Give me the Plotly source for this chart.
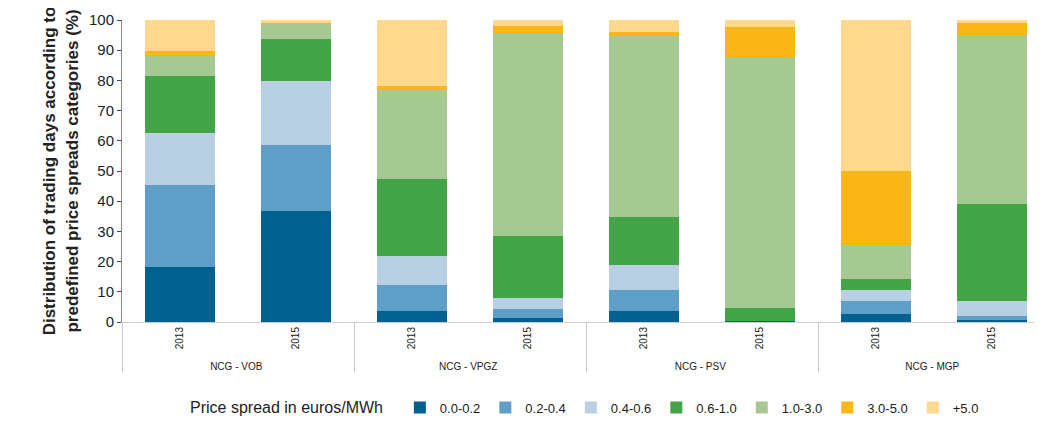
import plotly.graph_objects as go

groups = ["NCG - VOB","NCG - VOB","NCG - VPGZ","NCG - VPGZ","NCG - PSV","NCG - PSV","NCG - MGP","NCG - MGP"]
years = ["2013","2015"]*4
categories = ["0.0-0.2","0.2-0.4","0.4-0.6","0.6-1.0","1.0-3.0","3.0-5.0","+5.0"]
values = {
    "0.0-0.2": [18.2, 36.8, 3.6, 1.3, 3.6, 0.3, 2.6, 0.7],
    "0.2-0.4": [27.2, 21.8, 8.7, 3.0, 7.0, 0.0, 4.4, 1.3],
    "0.4-0.6": [17.2, 21.2, 9.6, 3.6, 8.3, 0.0, 3.6, 5.0],
    "0.6-1.0": [18.9, 13.9, 25.5, 20.6, 15.9, 4.3, 3.6, 32.1],
    "1.0-3.0": [6.9, 5.0, 29.4, 67.2, 59.9, 83.1, 11.3, 55.9],
    "3.0-5.0": [1.3, 0.3, 1.3, 2.3, 1.3, 10.0, 24.5, 4.0],
    "+5.0":    [10.3, 1.0, 21.9, 2.0, 4.0, 2.3, 50.0, 1.0],
}
colors = ["#00618f","#5f9ec7","#b8cfe4","#43a548","#a6c994","#fbb716","#fed98e"]

fig = go.Figure()
for c, col in zip(categories, colors):
    fig.add_trace(go.Bar(x=[groups, years], y=values[c], name=c, marker_color=col, marker_line_width=0))

fig.update_layout(
    barmode="stack", width=1042, height=421, bargap=0.4,
    margin=dict(l=114, r=0, t=12, b=107, autoexpand=False),
    plot_bgcolor="white", paper_bgcolor="white",
    font=dict(family="Liberation Sans, Arial", size=12, color="#222"),
    legend=dict(orientation="h", x=0.5, xanchor="center", y=-0.285, yanchor="middle",
                title=dict(text="Price spread in euros/MWh  ", side="left"),
                font=dict(size=13), traceorder="normal", itemwidth=30),
    yaxis=dict(range=[0,100], dtick=10, showgrid=False, ticks="outside", ticklen=4,
               showline=True, linecolor="#888", tickfont=dict(size=15), automargin=False,
               title=dict(text="<b>Distribution of trading days according to<br>predefined price spreads categories (%)</b>",
                          font=dict(size=17), standoff=6)),
    xaxis=dict(tickangle=-90, tickfont=dict(size=10), showdividers=True, dividercolor="#ccc",
               showline=True, linecolor="#ccc", automargin=False),
)
fig.write_html("out.html")
